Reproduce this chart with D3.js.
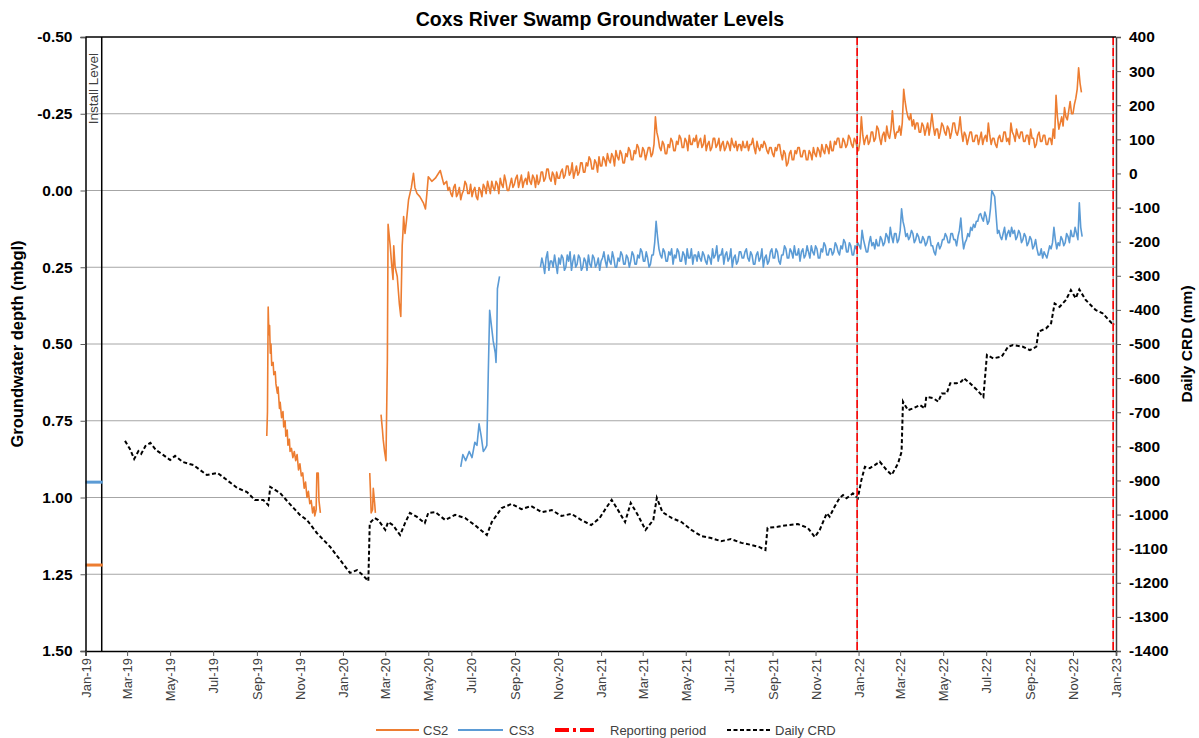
<!DOCTYPE html>
<html>
<head>
<meta charset="utf-8">
<script src="https://cdn.jsdelivr.net/npm/d3@7"></script>
<style>
  body { margin: 0; background: #fff; }
  svg { display: block; font-family: Arial, "Liberation Sans", sans-serif; }
</style>
</head>
<body>
<svg id="chart" width="1199" height="738"></svg>
<script>
// ---------------------------------------------------------------------------
// Data
// ---------------------------------------------------------------------------

// Axis ticks
const depthTicks = [-0.5, -0.25, 0, 0.25, 0.5, 0.75, 1, 1.25, 1.5];
const crdTicks = [400, 300, 200, 100, 0, -100, -200, -300, -400, -500, -600, -700,
                  -800, -900, -1000, -1100, -1200, -1300, -1400];
const dateDomain = ["2019-01-01", "2023-01-01"];

// Bore install levels (m below ground) and the install marker date
const installLevels = [
  { well: "CS3", depth: 0.95 },
  { well: "CS2", depth: 1.22 }
];
const installDate = "2019-01-24";

// Reporting period bounds
const reportingPeriod = ["2021-12-30", "2022-12-28"];

// CS2 manual / early logger readings (date, depth m bgl); null = gap in record
const cs2Readings = [
  ["2019-09-15", 0.80], ["2019-09-16", 0.72], ["2019-09-17", 0.38], ["2019-09-18", 0.47],
  ["2019-09-19", 0.44], ["2019-09-20", 0.53], ["2019-09-21", 0.50], ["2019-09-22", 0.57],
  ["2019-09-24", 0.56], ["2019-09-25", 0.60], ["2019-09-27", 0.59], ["2019-09-28", 0.63],
  ["2019-09-30", 0.66], ["2019-10-01", 0.64], ["2019-10-03", 0.71], ["2019-10-04", 0.69],
  ["2019-10-06", 0.74], ["2019-10-08", 0.72], ["2019-10-09", 0.77], ["2019-10-11", 0.75],
  ["2019-10-12", 0.80], ["2019-10-14", 0.78], ["2019-10-15", 0.83], ["2019-10-17", 0.81],
  ["2019-10-18", 0.85], ["2019-10-20", 0.84], ["2019-10-22", 0.87], ["2019-10-24", 0.85],
  ["2019-10-26", 0.88], ["2019-10-28", 0.86], ["2019-10-30", 0.91], ["2019-11-01", 0.89],
  ["2019-11-03", 0.93], ["2019-11-05", 0.92], ["2019-11-07", 0.97], ["2019-11-09", 0.95],
  ["2019-11-11", 1.00], ["2019-11-13", 0.98], ["2019-11-15", 1.02], ["2019-11-17", 1.01],
  ["2019-11-19", 1.05], ["2019-11-21", 1.03], ["2019-11-22", 1.06], ["2019-11-24", 1.04],
  ["2019-11-25", 0.92], ["2019-11-27", 0.92], ["2019-11-28", 1.01], ["2019-11-30", 1.05],
  null,
  ["2020-02-08", 0.92], ["2020-02-09", 0.98], ["2020-02-10", 1.05], ["2020-02-12", 1.04],
  ["2020-02-13", 0.97], ["2020-02-15", 1.02], ["2020-02-16", 1.05],
  null,
  ["2020-02-24", 0.73], ["2020-02-26", 0.78], ["2020-02-27", 0.81], ["2020-02-29", 0.85],
  ["2020-03-02", 0.88], ["2020-03-04", 0.55], ["2020-03-05", 0.11], ["2020-03-08", 0.18],
  ["2020-03-10", 0.24], ["2020-03-12", 0.29], ["2020-03-13", 0.18], ["2020-03-15", 0.25],
  ["2020-03-18", 0.28], ["2020-03-21", 0.37], ["2020-03-23", 0.41], ["2020-03-25", 0.18],
  ["2020-03-26", 0.14], ["2020-03-27", 0.085], ["2020-03-29", 0.14], ["2020-03-31", 0.10],
  ["2020-04-03", 0.03], ["2020-04-05", 0.01], ["2020-04-07", -0.01], ["2020-04-10", -0.056],
  ["2020-04-12", -0.01], ["2020-04-15", 0.01], ["2020-04-19", 0.02], ["2020-04-24", 0.04],
  ["2020-04-27", 0.06], ["2020-04-29", 0.01], ["2020-05-01", -0.045], ["2020-05-06", -0.03],
  ["2020-05-11", -0.04], ["2020-05-18", -0.065], ["2020-05-23", -0.02]
];

// CS2 logger record, one value every 2 days from 2020-05-27
const loggerStepDays = 2;
const cs2LoggerStart = "2020-05-27";
const cs2Logger = [
  -0.03, 0.00, -0.01, 0.01, 0.02, -0.01, -0.02, 0.02, 0.01, -0.01, 0.03, 0.01, 0.00, -0.03, -0.02, 0.01,
  0.01, -0.02, 0.02, 0.00, -0.01, 0.02, 0.03, -0.01, 0.00, 0.02, -0.02, -0.01, 0.01, -0.03, -0.01, 0.01,
  -0.03, -0.01, 0.00, -0.03, -0.02, 0.01, -0.04, -0.02, -0.01, -0.05, -0.03, 0.00, 0.00, -0.02, -0.04, -0.01,
  -0.02, -0.04, -0.05, -0.01, -0.03, -0.05, -0.01, -0.03, -0.04, -0.02, -0.06, -0.03, -0.02, -0.05, -0.04, -0.01,
  -0.05, -0.02, -0.03, -0.06, -0.06, -0.03, -0.04, -0.07, -0.07, -0.04, -0.03, -0.06, -0.05, -0.02, -0.06, -0.04,
  -0.04, -0.06, -0.07, -0.04, -0.05, -0.08, -0.08, -0.05, -0.06, -0.09, -0.04, -0.06, -0.08, -0.05, -0.06, -0.09,
  -0.09, -0.06, -0.06, -0.09, -0.08, -0.11, -0.10, -0.07, -0.07, -0.10, -0.09, -0.06, -0.11, -0.08, -0.08, -0.11,
  -0.10, -0.08, -0.12, -0.10, -0.09, -0.12, -0.11, -0.08, -0.13, -0.11, -0.10, -0.13, -0.12, -0.09, -0.09, -0.12,
  -0.11, -0.14, -0.13, -0.10, -0.10, -0.13, -0.12, -0.15, -0.14, -0.11, -0.11, -0.14, -0.13, -0.10, -0.12, -0.14,
  -0.14, -0.11, -0.12, -0.15, -0.24, -0.19, -0.17, -0.14, -0.13, -0.16, -0.15, -0.12, -0.12, -0.15, -0.14, -0.17,
  -0.16, -0.13, -0.13, -0.16, -0.15, -0.18, -0.17, -0.14, -0.14, -0.17, -0.16, -0.13, -0.18, -0.15, -0.15, -0.17,
  -0.16, -0.18, -0.14, -0.16, -0.17, -0.14, -0.15, -0.18, -0.13, -0.15, -0.16, -0.13, -0.14, -0.17, -0.17, -0.14,
  -0.15, -0.17, -0.13, -0.15, -0.16, -0.13, -0.14, -0.16, -0.15, -0.13, -0.17, -0.15, -0.14, -0.16, -0.13, -0.15,
  -0.15, -0.13, -0.16, -0.14, -0.14, -0.16, -0.13, -0.15, -0.15, -0.17, -0.14, -0.12, -0.16, -0.14, -0.13, -0.15,
  -0.14, -0.16, -0.15, -0.13, -0.12, -0.14, -0.14, -0.12, -0.11, -0.14, -0.13, -0.15, -0.15, -0.12, -0.10, -0.13,
  -0.12, -0.08, -0.09, -0.12, -0.13, -0.10, -0.10, -0.13, -0.12, -0.14, -0.14, -0.11, -0.11, -0.13, -0.13, -0.10,
  -0.10, -0.13, -0.12, -0.10, -0.14, -0.12, -0.11, -0.14, -0.13, -0.11, -0.15, -0.13, -0.12, -0.15, -0.14, -0.12,
  -0.16, -0.13, -0.13, -0.16, -0.15, -0.17, -0.17, -0.14, -0.14, -0.17, -0.16, -0.14, -0.15, -0.18, -0.17, -0.15,
  -0.14, -0.17, -0.16, -0.14, -0.13, -0.16, -0.24, -0.18, -0.15, -0.17, -0.18, -0.15, -0.16, -0.19, -0.19, -0.16,
  -0.17, -0.21, -0.20, -0.17, -0.15, -0.18, -0.19, -0.16, -0.21, -0.18, -0.17, -0.20, -0.26, -0.20, -0.17, -0.19,
  -0.19, -0.21, -0.18, -0.22, -0.33, -0.29, -0.26, -0.24, -0.23, -0.25, -0.21, -0.23, -0.20, -0.22, -0.22, -0.19,
  -0.19, -0.22, -0.21, -0.18, -0.20, -0.22, -0.18, -0.21, -0.25, -0.21, -0.18, -0.20, -0.20, -0.17, -0.19, -0.22,
  -0.21, -0.19, -0.18, -0.21, -0.20, -0.17, -0.19, -0.22, -0.22, -0.19, -0.18, -0.20, -0.24, -0.19, -0.16, -0.19,
  -0.18, -0.15, -0.17, -0.19, -0.19, -0.16, -0.16, -0.18, -0.18, -0.15, -0.17, -0.19, -0.15, -0.17, -0.18, -0.16,
  -0.22, -0.18, -0.15, -0.17, -0.17, -0.15, -0.14, -0.17, -0.18, -0.16, -0.16, -0.19, -0.19, -0.16, -0.17, -0.15,
  -0.22, -0.19, -0.18, -0.16, -0.20, -0.18, -0.17, -0.19, -0.19, -0.16, -0.16, -0.18, -0.18, -0.15, -0.20, -0.17,
  -0.17, -0.14, -0.15, -0.18, -0.19, -0.16, -0.16, -0.18, -0.18, -0.15, -0.15, -0.17, -0.17, -0.15, -0.20, -0.17,
  -0.31, -0.24, -0.20, -0.22, -0.24, -0.21, -0.27, -0.24, -0.23, -0.26, -0.29, -0.25, -0.25, -0.28, -0.30, -0.33,
  -0.40, -0.35, -0.32
];

// CS3 early readings (date, depth m bgl)
const cs3Readings = [
  ["2020-06-16", 0.90], ["2020-06-19", 0.86], ["2020-06-23", 0.88], ["2020-06-28", 0.85],
  ["2020-07-02", 0.87], ["2020-07-06", 0.82], ["2020-07-09", 0.83], ["2020-07-12", 0.76],
  ["2020-07-15", 0.80], ["2020-07-18", 0.85], ["2020-07-21", 0.84], ["2020-07-23", 0.83],
  ["2020-07-25", 0.60], ["2020-07-27", 0.39], ["2020-07-30", 0.45], ["2020-08-01", 0.49],
  ["2020-08-04", 0.53], ["2020-08-05", 0.56], ["2020-08-06", 0.49], ["2020-08-07", 0.32],
  ["2020-08-10", 0.28]
];

// CS3 logger record, one value every 2 days from 2020-10-07
const cs3LoggerStart = "2020-10-07";
const cs3Logger = [
  0.25, 0.22, 0.24, 0.27, 0.22, 0.20, 0.26, 0.23, 0.23, 0.25, 0.21, 0.24, 0.27, 0.22, 0.24, 0.21,
  0.22, 0.26, 0.25, 0.21, 0.23, 0.20, 0.26, 0.23, 0.21, 0.25, 0.24, 0.21, 0.22, 0.26, 0.25, 0.22,
  0.23, 0.26, 0.21, 0.24, 0.25, 0.21, 0.22, 0.25, 0.24, 0.22, 0.26, 0.23, 0.22, 0.20, 0.23, 0.25,
  0.21, 0.23, 0.24, 0.20, 0.22, 0.25, 0.25, 0.22, 0.23, 0.20, 0.21, 0.24, 0.24, 0.21, 0.22, 0.25,
  0.23, 0.20, 0.21, 0.24, 0.24, 0.21, 0.22, 0.19, 0.20, 0.23, 0.23, 0.20, 0.22, 0.25, 0.24, 0.21,
  0.21, 0.17, 0.10, 0.15, 0.19, 0.21, 0.22, 0.19, 0.20, 0.23, 0.23, 0.20, 0.21, 0.19, 0.24, 0.21,
  0.22, 0.19, 0.20, 0.23, 0.23, 0.20, 0.21, 0.24, 0.19, 0.22, 0.22, 0.19, 0.24, 0.21, 0.21, 0.23,
  0.20, 0.22, 0.23, 0.20, 0.21, 0.23, 0.24, 0.21, 0.22, 0.24, 0.19, 0.22, 0.21, 0.18, 0.23, 0.21,
  0.21, 0.19, 0.24, 0.21, 0.20, 0.23, 0.22, 0.19, 0.25, 0.22, 0.21, 0.24, 0.23, 0.20, 0.20, 0.22,
  0.22, 0.20, 0.19, 0.22, 0.23, 0.20, 0.21, 0.24, 0.24, 0.21, 0.20, 0.23, 0.22, 0.19, 0.25, 0.22,
  0.21, 0.24, 0.23, 0.20, 0.19, 0.22, 0.22, 0.19, 0.20, 0.23, 0.24, 0.21, 0.21, 0.18, 0.19, 0.22,
  0.22, 0.19, 0.20, 0.22, 0.18, 0.21, 0.21, 0.19, 0.23, 0.20, 0.19, 0.22, 0.21, 0.18, 0.20, 0.22,
  0.18, 0.20, 0.21, 0.18, 0.19, 0.22, 0.22, 0.19, 0.20, 0.17, 0.18, 0.21, 0.21, 0.19, 0.19, 0.21,
  0.20, 0.17, 0.18, 0.20, 0.21, 0.18, 0.19, 0.16, 0.17, 0.20, 0.20, 0.17, 0.18, 0.21, 0.21, 0.18,
  0.19, 0.17, 0.18, 0.19, 0.13, 0.16, 0.18, 0.20, 0.20, 0.17, 0.15, 0.18, 0.17, 0.19, 0.16, 0.18,
  0.18, 0.15, 0.16, 0.18, 0.17, 0.14, 0.15, 0.17, 0.12, 0.15, 0.17, 0.14, 0.14, 0.17, 0.16, 0.13,
  0.06, 0.10, 0.12, 0.15, 0.14, 0.16, 0.15, 0.13, 0.14, 0.17, 0.16, 0.14, 0.15, 0.17, 0.17, 0.15,
  0.16, 0.18, 0.17, 0.15, 0.15, 0.18, 0.18, 0.20, 0.21, 0.18, 0.17, 0.19, 0.18, 0.16, 0.16, 0.14,
  0.15, 0.17, 0.17, 0.14, 0.14, 0.16, 0.16, 0.18, 0.15, 0.13, 0.09, 0.15, 0.19, 0.17, 0.16, 0.14,
  0.15, 0.12, 0.13, 0.11, 0.12, 0.10, 0.10, 0.08, 0.075, 0.09, 0.10, 0.07, 0.085, 0.11, 0.10, 0.06,
  0.00, 0.01, 0.02, 0.08, 0.14, 0.13, 0.15, 0.16, 0.14, 0.12, 0.16, 0.14, 0.13, 0.15, 0.12, 0.14,
  0.13, 0.16, 0.15, 0.13, 0.14, 0.17, 0.16, 0.14, 0.15, 0.18, 0.17, 0.15, 0.16, 0.19, 0.18, 0.16,
  0.19, 0.21, 0.21, 0.19, 0.22, 0.20, 0.21, 0.22, 0.20, 0.18, 0.19, 0.17, 0.12, 0.16, 0.19, 0.17,
  0.18, 0.15, 0.16, 0.18, 0.17, 0.14, 0.15, 0.17, 0.13, 0.15, 0.15, 0.12, 0.14, 0.16, 0.04, 0.12,
  0.15
];

// Daily cumulative rainfall deviation (date, mm)
const crdReadings = [
  ["2019-02-26", -784], ["2019-03-05", -808], ["2019-03-11", -837], ["2019-03-17", -814],
  ["2019-03-21", -822], ["2019-03-27", -799], ["2019-04-03", -790], ["2019-04-11", -811],
  ["2019-04-21", -825], ["2019-05-01", -840], ["2019-05-08", -828], ["2019-05-19", -846],
  ["2019-06-03", -855], ["2019-06-22", -884], ["2019-07-07", -878], ["2019-07-15", -890],
  ["2019-08-04", -922], ["2019-08-18", -934], ["2019-08-29", -957], ["2019-09-10", -957],
  ["2019-09-17", -972], ["2019-09-20", -919], ["2019-10-04", -937], ["2019-10-15", -963],
  ["2019-11-01", -1001], ["2019-11-11", -1016], ["2019-11-25", -1054], ["2019-12-14", -1095],
  ["2019-12-28", -1133], ["2020-01-11", -1171], ["2020-01-21", -1163], ["2020-01-29", -1177],
  ["2020-02-06", -1195], ["2020-02-08", -1025], ["2020-02-15", -1010], ["2020-02-20", -1016],
  ["2020-03-01", -1045], ["2020-03-05", -1022], ["2020-03-12", -1031], ["2020-03-22", -1060],
  ["2020-03-29", -1025], ["2020-04-05", -995], ["2020-04-15", -1007], ["2020-04-26", -1025],
  ["2020-05-01", -995], ["2020-05-11", -993], ["2020-05-25", -1016], ["2020-06-08", -1001],
  ["2020-06-22", -1010], ["2020-07-06", -1031], ["2020-07-23", -1060], ["2020-07-30", -1022],
  ["2020-08-13", -981], ["2020-08-27", -969], ["2020-09-10", -984], ["2020-09-24", -975],
  ["2020-10-09", -993], ["2020-10-23", -987], ["2020-11-06", -1004], ["2020-11-20", -998],
  ["2020-12-04", -1016], ["2020-12-18", -1031], ["2020-12-30", -1010], ["2021-01-08", -981],
  ["2021-01-16", -957], ["2021-01-25", -987], ["2021-02-04", -1022], ["2021-02-12", -966],
  ["2021-02-22", -1001], ["2021-03-05", -1045], ["2021-03-16", -1016], ["2021-03-21", -951],
  ["2021-03-29", -993], ["2021-04-11", -1010], ["2021-04-25", -1022], ["2021-05-09", -1045],
  ["2021-05-23", -1063], ["2021-06-06", -1069], ["2021-06-20", -1078], ["2021-07-04", -1072],
  ["2021-07-19", -1083], ["2021-08-02", -1089], ["2021-08-13", -1095], ["2021-08-22", -1104],
  ["2021-08-25", -1039], ["2021-09-08", -1036], ["2021-09-22", -1031], ["2021-10-07", -1028],
  ["2021-10-21", -1039], ["2021-10-31", -1066], ["2021-11-07", -1045], ["2021-11-17", -996],
  ["2021-11-21", -1006], ["2021-11-28", -977], ["2021-12-05", -952], ["2021-12-10", -943],
  ["2021-12-15", -952], ["2021-12-24", -938], ["2021-12-31", -952], ["2022-01-05", -899],
  ["2022-01-10", -860], ["2022-01-17", -864], ["2022-01-24", -855], ["2022-01-31", -845],
  ["2022-02-10", -870], ["2022-02-17", -884], ["2022-02-26", -850], ["2022-03-03", -816],
  ["2022-03-05", -669], ["2022-03-12", -694], ["2022-03-19", -689], ["2022-03-29", -679],
  ["2022-04-05", -689], ["2022-04-07", -655], ["2022-04-17", -659], ["2022-04-24", -669],
  ["2022-04-29", -645], ["2022-05-06", -645], ["2022-05-11", -615], ["2022-05-20", -615],
  ["2022-05-27", -610], ["2022-05-30", -600], ["2022-06-08", -615], ["2022-06-18", -635],
  ["2022-06-27", -655], ["2022-07-02", -532], ["2022-07-11", -542], ["2022-07-23", -537],
  ["2022-08-01", -508], ["2022-08-08", -503], ["2022-08-22", -508], ["2022-09-01", -518],
  ["2022-09-10", -508], ["2022-09-13", -464], ["2022-09-24", -454], ["2022-10-01", -439],
  ["2022-10-06", -381], ["2022-10-13", -391], ["2022-10-22", -371], ["2022-10-29", -342],
  ["2022-11-05", -366], ["2022-11-10", -340], ["2022-11-19", -371], ["2022-12-03", -400],
  ["2022-12-13", -410], ["2022-12-26", -439], ["2022-12-30", -442]
];

// Series colours
const seriesColors = { CS2: "#ED7D31", CS3: "#5B9BD5", report: "#FF0000", crd: "#000000" };

// ---------------------------------------------------------------------------
// Chart
// ---------------------------------------------------------------------------
const svg = d3.select("#chart");
const plot = { left: 85.5, right: 1116, top: 37, bottom: 651 };

const parse = d3.utcParse("%Y-%m-%d");
const DAY = 864e5;

const x = d3.scaleUtc().domain(dateDomain.map(parse)).range([plot.left, plot.right]);
const yDepth = d3.scaleLinear().domain([-0.5, 1.5]).range([plot.top, plot.bottom]);
const yCrd = d3.scaleLinear().domain([400, -1400]).range([plot.top, plot.bottom]);

const fromRows = rows => rows.map(r => (r ? { date: parse(r[0]), value: r[1] } : null));
const fromLogger = (start, values) => {
  const t0 = parse(start).getTime();
  return values.map((v, i) => ({ date: new Date(t0 + i * loggerStepDays * DAY), value: v }));
};

const cs2 = fromRows(cs2Readings).concat(fromLogger(cs2LoggerStart, cs2Logger));
const cs3 = fromRows(cs3Readings).concat([null], fromLogger(cs3LoggerStart, cs3Logger));
const crd = fromRows(crdReadings);

// Horizontal gridlines
svg.append("g")
  .selectAll("line")
  .data(depthTicks.filter(t => t > -0.5 && t < 1.5))
  .join("line")
  .attr("x1", plot.left).attr("x2", plot.right)
  .attr("y1", d => yDepth(d)).attr("y2", d => yDepth(d))
  .attr("stroke", "#a6a6a6").attr("stroke-width", 1);

// Install level panel
const xInstall = x(parse(installDate));
svg.append("line")
  .attr("x1", xInstall).attr("x2", xInstall)
  .attr("y1", plot.top).attr("y2", plot.bottom)
  .attr("stroke", "#000").attr("stroke-width", 1.5);
svg.append("text")
  .attr("transform", `translate(${(plot.left + xInstall) / 2 + 4.5},${plot.top + 16}) rotate(-90)`)
  .attr("text-anchor", "end")
  .attr("font-size", 13.5)
  .attr("fill", "#404040")
  .text("Install Level");
svg.append("g")
  .selectAll("line")
  .data(installLevels)
  .join("line")
  .attr("x1", plot.left).attr("x2", xInstall + 1)
  .attr("y1", d => yDepth(d.depth)).attr("y2", d => yDepth(d.depth))
  .attr("stroke", d => seriesColors[d.well]).attr("stroke-width", 3);

// Series lines
const depthLine = d3.line()
  .defined(d => d !== null)
  .x(d => x(d.date))
  .y(d => yDepth(d.value));
const crdLine = d3.line()
  .x(d => x(d.date))
  .y(d => yCrd(d.value));

svg.append("path")
  .datum(crd)
  .attr("d", crdLine)
  .attr("fill", "none")
  .attr("stroke", seriesColors.crd)
  .attr("stroke-width", 2)
  .attr("stroke-dasharray", "4,2.5");

svg.append("path")
  .datum(cs2)
  .attr("d", depthLine)
  .attr("fill", "none")
  .attr("stroke", seriesColors.CS2)
  .attr("stroke-width", 1.6)
  .attr("stroke-linejoin", "round");

svg.append("path")
  .datum(cs3)
  .attr("d", depthLine)
  .attr("fill", "none")
  .attr("stroke", seriesColors.CS3)
  .attr("stroke-width", 1.6)
  .attr("stroke-linejoin", "round");

// Reporting period markers
const reportG = svg.append("g");
reportingPeriod.forEach(d => {
  const xp = x(parse(d));
  reportG.append("line")
    .attr("x1", xp).attr("x2", xp).attr("y1", plot.top).attr("y2", plot.bottom)
    .attr("stroke", "#7f7f7f").attr("stroke-width", 1);
  reportG.append("line")
    .attr("x1", xp).attr("x2", xp).attr("y1", plot.top).attr("y2", plot.bottom)
    .attr("stroke", seriesColors.report).attr("stroke-width", 1.6)
    .attr("stroke-dasharray", "8,3");
});

// Frame: top border, left and bottom axes, right axis
svg.append("line")
  .attr("x1", plot.left).attr("x2", plot.right).attr("y1", plot.top).attr("y2", plot.top)
  .attr("stroke", "#000").attr("stroke-width", 1.5);

const fmtDepth = v => v.toFixed(2);
const leftAxis = svg.append("g").attr("transform", `translate(${plot.left},0)`)
  .call(d3.axisLeft(yDepth).tickValues(depthTicks).tickFormat(fmtDepth).tickSizeOuter(0).tickSize(5).tickPadding(8));
leftAxis.select(".domain").attr("stroke", "#000").attr("stroke-width", 1.5);
leftAxis.selectAll(".tick line").attr("stroke", "#595959");
leftAxis.selectAll(".tick text")
  .attr("font-family", "Arial, 'Liberation Sans', sans-serif")
  .attr("font-size", 15.5).attr("font-weight", "bold").attr("fill", "#000");

const rightAxis = svg.append("g").attr("transform", `translate(${plot.right},0)`)
  .call(d3.axisRight(yCrd).tickValues(crdTicks).tickFormat(d => String(d)).tickSizeOuter(0).tickSize(5).tickPadding(8));
rightAxis.select(".domain").attr("stroke", "#404040").attr("stroke-width", 1.5);
rightAxis.selectAll(".tick line").attr("stroke", "#595959");
rightAxis.selectAll(".tick text")
  .attr("font-family", "Arial, 'Liberation Sans', sans-serif")
  .attr("font-size", 15.5).attr("font-weight", "bold").attr("fill", "#000");

const bottomAxis = svg.append("g").attr("transform", `translate(0,${plot.bottom})`)
  .call(d3.axisBottom(x).ticks(d3.utcMonth.every(2)).tickFormat(d3.utcFormat("%b-%y")).tickSizeOuter(0).tickSize(5));
bottomAxis.select(".domain").attr("stroke", "#000").attr("stroke-width", 1.5);
bottomAxis.selectAll(".tick line").attr("stroke", "#595959");
bottomAxis.selectAll(".tick text")
  .attr("font-family", "Arial, 'Liberation Sans', sans-serif")
  .attr("font-size", 13).attr("fill", "#404040")
  .attr("text-anchor", "end")
  .attr("dy", "0.35em")
  .attr("transform", "translate(0,7) rotate(-90)")
  .attr("x", 0).attr("y", 0);

// Titles
svg.append("text")
  .attr("x", 600).attr("y", 26)
  .attr("text-anchor", "middle")
  .attr("font-size", 19.5).attr("font-weight", "bold").attr("fill", "#000")
  .text("Coxs River Swamp Groundwater Levels");

svg.append("text")
  .attr("transform", `translate(23,${(plot.top + plot.bottom) / 2}) rotate(-90)`)
  .attr("text-anchor", "middle")
  .attr("font-size", 16.5).attr("font-weight", "bold").attr("fill", "#000")
  .text("Groundwater depth (mbgl)");

svg.append("text")
  .attr("transform", `translate(1192,${(plot.top + plot.bottom) / 2}) rotate(-90)`)
  .attr("text-anchor", "middle")
  .attr("font-size", 15.5).attr("font-weight", "bold").attr("fill", "#000")
  .text("Daily CRD (mm)");

// Legend
const legendY = 730;
const legendItems = [
  { label: "CS2", x0: 376, x1: 419, tx: 423, color: seriesColors.CS2, width: 1.8, dash: null },
  { label: "CS3", x0: 458, x1: 503, tx: 509, color: seriesColors.CS3, width: 1.8, dash: null },
  { label: "Reporting period", x0: 555, x1: 595, tx: 610, color: seriesColors.report, width: 4, dash: "14,4,3,4" },
  { label: "Daily CRD", x0: 727, x1: 772, tx: 775, color: seriesColors.crd, width: 2, dash: "4,2.5" }
];
const legend = svg.append("g");
legendItems.forEach(it => {
  legend.append("line")
    .attr("x1", it.x0).attr("x2", it.x1).attr("y1", legendY).attr("y2", legendY)
    .attr("stroke", it.color).attr("stroke-width", it.width)
    .attr("stroke-dasharray", it.dash);
  legend.append("text")
    .attr("x", it.tx).attr("y", legendY).attr("dy", "0.35em")
    .attr("font-size", 13).attr("fill", "#404040")
    .text(it.label);
});
</script>
</body>
</html>
